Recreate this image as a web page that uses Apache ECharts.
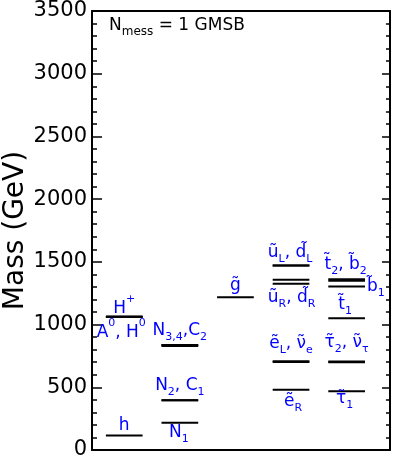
<!DOCTYPE html>
<html><head><meta charset="utf-8">
<script src="https://cdn.jsdelivr.net/npm/echarts@6/dist/echarts.min.js"></script>
<style>html,body{margin:0;padding:0;background:#fff}#c{width:394px;height:461px}</style>
</head><body><div id="c"></div>
<script>
// ---- data ----
const massMin = 0, massMax = 3500, massStep = 500;
const levelNames   = ['h','H0','A0','H+','N1','N2','C1','N3','N4','C2','gluino','uL','dL','uR','dR','t1','t2','b1','b2','eL','nu_e','eR','tau1','tau2','nu_tau'];
const levelColumns = [1,1,1,1,2,2,2,2,2,2,3,4,4,4,4,5,5,5,5,4,4,4,5,5,5];
const levelMasses  = [115,1062,1062,1062,218,396,396,830,838,838,1217,1470,1470,1358,1326,1050,1362,1303,1350,708,702,481,468,706,700];

const labelTexts = [
  '{m|h}',
  '{M|H}{p|+}',
  '{M|A}{p|0}{M|, H}{p|0}',
  '{m|N}{b|3,4}{m|,C}{b|2}',
  '{m|N}{b|2}{m|, C}{b|1}',
  '{m|N}{b|1}',
  '{m|g\u0303}',
  '{m|\u0169}{b|L}{m|, d\u0303}{b|L}',
  '{m|\u0169}{b|R}{m|, d\u0303}{b|R}',
  '{m|t\u0303}{b|2}{m|, b\u0303}{b|2}',
  '{m|b\u0303}{b|1}',
  '{m|t\u0303}{b|1}',
  '{m|\u1EBD}{b|L}{m|, \u03BD\u0303}{b|e}',
  '{m|\u1EBD}{b|R}',
  '{m|\u03C4\u0303}{b|2}{m|, \u03BD\u0303}{b|\u03C4}',
  '{m|\u03C4\u0303}{b|1}'
];
const labelAnchors = ['h','H+','A0','N3','N2','N1','gluino','uL','dR','t2','b1','t1','eL','eR','tau2','tau1'];
const titleText = '{m|N}{s|mess}{m| = 1 GMSB}';

// ---- layout / style (pixel offsets of labels from their line centre) ----
const labelLayout = {
  dx:    [0, 0, -3, 0, 0, -1, 0, -1, 0.5, -1, 20.4, -1.5, 0, 2, 0, -2],
  dy:    [-10, -11.6, 12.7, -15, -15, 9.5, -11.3, -13, 14, -15, 0.5, -14, -18, 11.7, -18.6, 7],
  align: ['center','center','center','center','center','center','center','center','center','center','left','center','center','center','center','center']
};
const HALF = 0.33;
const BLUE = '#0000ff';
const FONT = 'DejaVu Sans';
const rich = {
  m: {fontSize: 17, lineHeight: 24, fontFamily: FONT, fill: BLUE, verticalAlign: 'middle'},
  M: {fontSize: 17, lineHeight: 24, fontFamily: FONT, fill: BLUE, verticalAlign: 'bottom'},
  b: {fontSize: 11, lineHeight: 11, fontFamily: FONT, fill: BLUE, verticalAlign: 'bottom'},
  p: {fontSize: 11, lineHeight: 11, fontFamily: FONT, fill: BLUE, verticalAlign: 'top'}
};

const levelData = levelColumns.map((c, i) => [c, levelMasses[i]]);
const labelData = labelAnchors.map((name, i) => {
  const k = levelNames.indexOf(name);
  return [levelColumns[k], levelMasses[k], i];
});

const chart = echarts.init(document.getElementById('c'), null, {renderer: 'canvas'});
const yBase = {
  type: 'value', min: massMin, max: massMax, interval: massStep,
  axisLine: {show: true, onZero: false, lineStyle: {color: '#000', width: 2}},
  splitLine: {show: false}
};
chart.setOption({
  animation: false,
  backgroundColor: '#fff',
  grid: {left: 92, right: 4, top: 11, bottom: 11, containLabel: false, outerBoundsMode: 'none'},
  xAxis: [
    {type: 'value', min: 0.42, max: 5.78, position: 'bottom',
     axisLine: {show: true, onZero: false, lineStyle: {color: '#000', width: 2}},
     axisTick: {show: false}, axisLabel: {show: false}, splitLine: {show: false}},
    {type: 'value', min: 0.42, max: 5.78, position: 'top',
     axisLine: {show: true, onZero: false, lineStyle: {color: '#000', width: 2}},
     axisTick: {show: false}, axisLabel: {show: false}, splitLine: {show: false}}
  ],
  yAxis: [
    Object.assign({}, yBase, {
      position: 'left',
      axisTick: {show: true, inside: true, length: 10, lineStyle: {color: '#000', width: 1.5}},
      minorTick: {show: true, splitNumber: 5, length: 5, lineStyle: {color: '#000', width: 1.5}},
      axisLabel: {show: true, fontSize: 21, fontFamily: FONT, color: '#000', margin: 5,
                  showMinLabel: true, showMaxLabel: true, formatter: v => String(v)},
      name: 'Mass (GeV)', nameLocation: 'middle', nameGap: 62, nameMoveOverlap: false,
      nameTextStyle: {fontSize: 28, fontFamily: FONT, color: '#000'}
    }),
    Object.assign({}, yBase, {
      position: 'right',
      axisTick: {show: true, inside: true, length: 8, lineStyle: {color: '#000', width: 1.5}},
      minorTick: {show: true, splitNumber: 5, length: 4, lineStyle: {color: '#000', width: 1.5}},
      axisLabel: {show: false}
    })
  ],
  graphic: [{
    type: 'text', left: 109, top: 17,
    style: {
      text: titleText,
      rich: {
        m: {fontSize: 17, lineHeight: 24, fontFamily: FONT, fill: '#000'},
        s: {fontSize: 12, lineHeight: 12, fontFamily: FONT, fill: '#000', verticalAlign: 'bottom'}
      }
    }
  }],
  series: [
    {
      type: 'custom', xAxisIndex: 0, yAxisIndex: 0, data: levelData,
      encode: {x: 0, y: 1},
      renderItem: (params, api) => {
        const c = api.value(0), m = api.value(1);
        const p1 = api.coord([c - HALF, m]);
        const p2 = api.coord([c + HALF, m]);
        return {type: 'line', shape: {x1: p1[0], y1: p1[1], x2: p2[0], y2: p2[1]},
                style: {stroke: '#000', lineWidth: 2}};
      }
    },
    {
      type: 'custom', xAxisIndex: 0, yAxisIndex: 0, data: labelData,
      encode: {x: 0, y: 1},
      renderItem: (params, api) => {
        const c = api.value(0), m = api.value(1), i = api.value(2);
        const p = api.coord([c, m]);
        return {type: 'text', x: p[0] + labelLayout.dx[i], y: p[1] + labelLayout.dy[i],
                style: {text: labelTexts[i], rich: rich, fill: BLUE, fontFamily: FONT, fontSize: 17,
                        align: labelLayout.align[i], verticalAlign: 'middle'}};
      }
    }
  ]
});
</script>
</body></html>
